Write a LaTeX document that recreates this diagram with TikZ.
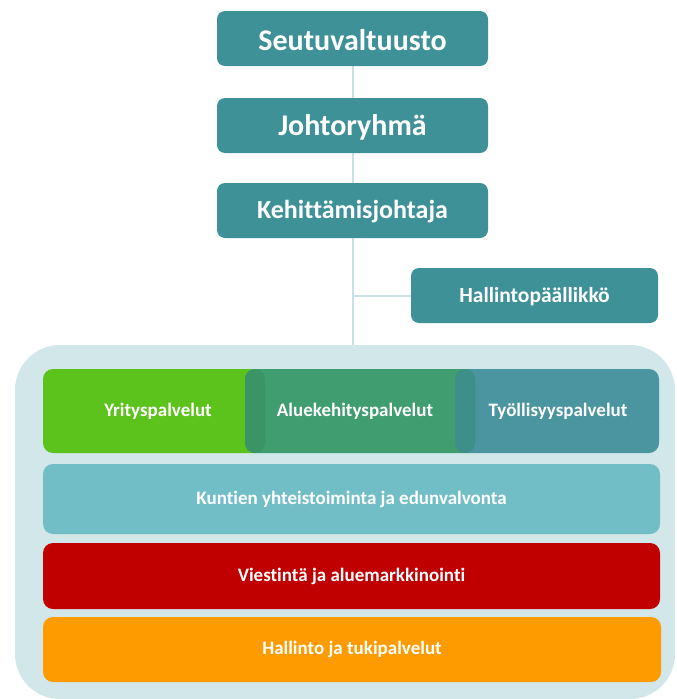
\documentclass[tikz,border=0pt]{standalone}
\usepackage{fontspec}
\setmainfont[Ligatures=NoCommon]{Carlito}
\definecolor{teal}{HTML}{3F9198}
\definecolor{linec}{HTML}{CBE0E3}
\definecolor{contc}{HTML}{D2E7EA}
\definecolor{greenc}{HTML}{5CC21C}
\definecolor{greendk}{HTML}{3A9466}
\definecolor{aluec}{HTML}{3F9D6F}
\definecolor{tealdk}{HTML}{3E8E8A}
\definecolor{tyoc}{HTML}{4A95A0}
\definecolor{kuntc}{HTML}{72BEC6}
\definecolor{redc}{HTML}{C00000}
\definecolor{orangec}{HTML}{FD9B00}
\tikzset{
  topbox/.style={fill=teal, rounded corners=8pt},
  toptext/.style={text=white, font=\bfseries\fontsize{#1}{#1}\selectfont},
  rowbox/.style={rounded corners=10pt},
  rowtext/.style={text=white, font=\bfseries\fontsize{19}{22}\selectfont},
  conn/.style={draw=linec, line width=1.6pt}
}
\begin{document}
\begin{tikzpicture}[x=1pt,y=-1pt]
\useasboundingbox (0,0) rectangle (677,699);
% connectors
\coordinate (cjoin) at (353,296);
\coordinate (ctop) at (353,346);
\draw[conn] (353,39) -- (ctop);
\draw[conn] (cjoin) -- (411,296);
% top boxes
\fill[topbox] (217,11) rectangle (488,66);
\node[toptext=30] (seutu) at (352.5,40) {Seutuvaltuusto};
\fill[topbox] (217,98) rectangle (488,153);
\node[toptext=30] (johto) at (352.5,127) {Johtoryhmä};
\fill[topbox] (217,183) rectangle (488,238);
\node[toptext=26] (kehit) at (352.5,212) {Kehittämisjohtaja};
\fill[topbox] (411,268) rectangle (658,323);
\node[toptext=21.5] (hallp) at (534.5,297) {Hallintopäällikkö};
% container
\fill[contc, rounded corners=45pt] (15,345) rectangle (675,699);
% row 1
\fill[greenc, rowbox] (43,369) rectangle (265,453);
\fill[tyoc, rowbox] (455,369) rectangle (659,453);
\fill[aluec, rowbox] (245,369) rectangle (475,453);
\begin{scope}
  \clip[rounded corners=10pt] (43,369) rectangle (265,453);
  \fill[greendk, rowbox] (245,369) rectangle (475,453);
\end{scope}
\begin{scope}
  \clip[rounded corners=10pt] (455,369) rectangle (659,453);
  \fill[tealdk, rowbox] (245,369) rectangle (475,453);
\end{scope}
\node[rowtext] (yrit) at (158,411) {Yrityspalvelut};
\node[rowtext] (alue) at (355,411) {Aluekehityspalvelut};
\node[rowtext] (tyo) at (558,411) {Työllisyyspalvelut};
% other rows
\fill[kuntc, rowbox] (43,464) rectangle (660,534);
\node[rowtext] (kunt) at (351.5,499) {Kuntien yhteistoiminta ja edunvalvonta};
\fill[redc, rowbox] (43,543) rectangle (660,609);
\node[rowtext] (viest) at (351.5,576) {Viestintä ja aluemarkkinointi};
\fill[orangec, rowbox] (43,617) rectangle (661,682);
\node[rowtext] (hall) at (352,649.5) {Hallinto ja tukipalvelut};
\end{tikzpicture}
\end{document}
